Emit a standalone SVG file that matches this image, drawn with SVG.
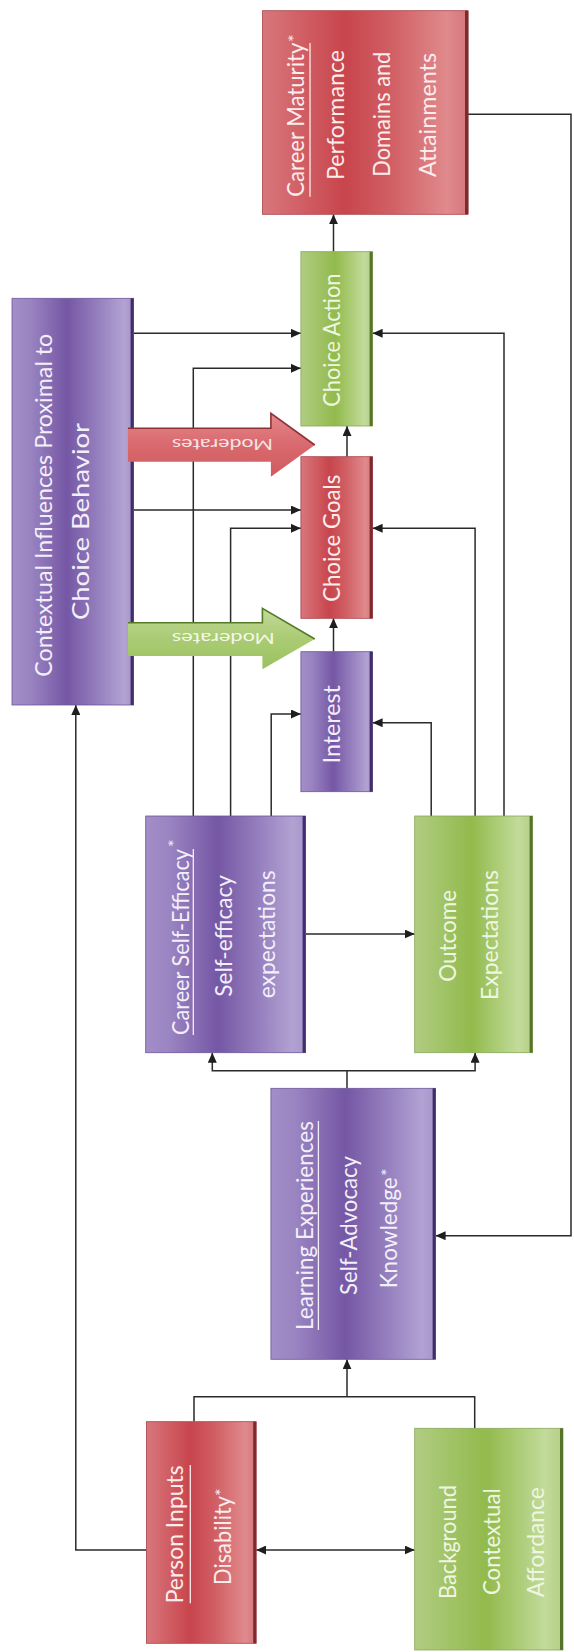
<svg xmlns="http://www.w3.org/2000/svg" width="574" height="1652" viewBox="0 0 574 1652">
<defs>
<linearGradient id="gP" x1="0" y1="0" x2="1" y2="0">
<stop offset="0" stop-color="#a28ec8"/><stop offset="0.15" stop-color="#9a84c1"/><stop offset="0.45" stop-color="#7557a5"/><stop offset="0.72" stop-color="#9781bf"/><stop offset="0.92" stop-color="#b2a2d3"/><stop offset="1" stop-color="#a594ca"/>
</linearGradient>
<linearGradient id="gR" x1="0" y1="0" x2="1" y2="0">
<stop offset="0" stop-color="#d8777c"/><stop offset="0.4" stop-color="#c8454c"/><stop offset="0.62" stop-color="#d05e63"/><stop offset="0.9" stop-color="#e08a8d"/><stop offset="1" stop-color="#d57579"/>
</linearGradient>
<linearGradient id="gG" x1="0" y1="0" x2="1" y2="0">
<stop offset="0" stop-color="#b1cc82"/><stop offset="0.48" stop-color="#92ba4c"/><stop offset="0.88" stop-color="#c2db9a"/><stop offset="1" stop-color="#b4cf86"/>
</linearGradient>
<linearGradient id="aR" x1="0" y1="0" x2="0" y2="1">
<stop offset="0" stop-color="#e3878b"/><stop offset="0.5" stop-color="#d9696e"/><stop offset="1" stop-color="#cf5b60"/>
</linearGradient>
<linearGradient id="aG" x1="0" y1="0" x2="0" y2="1">
<stop offset="0" stop-color="#c3da99"/><stop offset="0.5" stop-color="#aacb74"/><stop offset="1" stop-color="#9cc15f"/>
</linearGradient>
<marker id="ah" viewBox="0 0 10 9" refX="10" refY="4.5" markerWidth="10" markerHeight="9" markerUnits="userSpaceOnUse" orient="auto-start-reverse">
<path d="M0,0 L10,4.5 L0,9 Z" fill="#1e1e1e"/>
</marker>
</defs>
<style>
.c{fill:none;stroke:#2a2a2a;stroke-width:1.5}
.a{marker-end:url(#ah)}
.t{font-family:Lato,"Open Sans","Liberation Sans",sans-serif;font-size:23px}
.st{font-family:Lato,"Open Sans","Liberation Sans",sans-serif;font-size:18px}
.tp{fill:#f3eff9}
.tr{fill:#fcecec}
.tg{fill:#eef6e0}
.ul{stroke-width:1.3}
.sP{fill:#3f2e6a}.sR{fill:#7b2b30}.sG{fill:#56752a}
.bP{stroke:#6b569a;stroke-width:0.8}.bR{stroke:#a8454b;stroke-width:0.8}.bG{stroke:#86a85a;stroke-width:0.8}
.mt{font-family:Lato,"Open Sans","Liberation Sans",sans-serif;font-size:15px}
</style>
<rect width="574" height="1652" fill="#ffffff"/>

<g id="connectors">
<path class="c a" d="M333.5,251.7 V214.3"/>
<path class="c a" d="M347,456.7 V426"/>
<path class="c a" d="M333.5,651.7 V618.3"/>
<path class="c a" d="M133.6,333.3 H300.9"/>
<path class="c a" d="M133.6,510 H300.9"/>
<path class="c a" d="M193.3,816 V368.3 H300.9"/>
<path class="c a" d="M230.6,816 V528.3 H300.9"/>
<path class="c a" d="M271.2,816 V714 H300.9"/>
<path class="c a" d="M504,816 V333.3 H372.6"/>
<path class="c a" d="M475.1,816 V528.3 H372.6"/>
<path class="c a" d="M431.2,816 V722.7 H372.6"/>
<path class="c a" d="M305.6,934 H414.7"/>
<path class="c" d="M347,1088.3 V1070.7"/>
<path class="c a" d="M347,1070.7 H212.3 V1052.7"/>
<path class="c a" d="M347,1070.7 H475.1 V1052.7"/>
<path class="c" d="M194,1421.7 V1396.7 H474.7 V1428.3"/>
<path class="c a" d="M347,1396.7 V1359.3"/>
<path class="c a" d="M256.2,1550 H414.7" marker-start="url(#ah)"/>
<path class="c a" d="M146.4,1550 H75.8 V705"/>
<path class="c a" d="M467.8,114.3 H571 V1235.7 H435.6"/>
</g>

<g id="careerMaturity">
<rect x="262.5" y="10.7" width="205.3" height="203.6" fill="url(#gR)" class="bR"/>
<rect x="465" y="10.7" width="3.5" height="203.6" class="sR"/>
<text class="t tr" transform="translate(303.8,196.7) rotate(-90)" textLength="154" lengthAdjust="spacingAndGlyphs">Career Maturity</text>
<text class="st tr" transform="translate(301,42) rotate(-90)">*</text>
<line class="ul" x1="310" y1="196.7" x2="310" y2="43" stroke="#fcecec"/>
<text class="t tr" transform="translate(344,180) rotate(-90)" textLength="130" lengthAdjust="spacingAndGlyphs">Performance</text>
<text class="t tr" transform="translate(389.8,176.7) rotate(-90)" textLength="125" lengthAdjust="spacingAndGlyphs">Domains and</text>
<text class="t tr" transform="translate(435.6,177) rotate(-90)" textLength="124" lengthAdjust="spacingAndGlyphs">Attainments</text>
</g>

<g id="choiceAction">
<rect x="300.9" y="251.7" width="71.7" height="174.3" fill="url(#gG)" class="bG"/>
<rect x="369.6" y="251.7" width="3" height="174.3" class="sG"/>
<text class="t tg" transform="translate(340,406.7) rotate(-90)" textLength="133" lengthAdjust="spacingAndGlyphs">Choice Action</text>
</g>

<g id="choiceGoals">
<rect x="300.9" y="456.7" width="71.7" height="161.6" fill="url(#gR)" class="bR"/>
<rect x="369.6" y="456.7" width="3" height="161.6" class="sR"/>
<text class="t tr" transform="translate(340,601.7) rotate(-90)" textLength="127" lengthAdjust="spacingAndGlyphs">Choice Goals</text>
</g>

<g id="interest">
<rect x="300.9" y="651.7" width="71.7" height="140" fill="url(#gP)" class="bP"/>
<rect x="369.6" y="651.7" width="3" height="140" class="sP"/>
<text class="t tp" transform="translate(339.7,763.3) rotate(-90)" textLength="78" lengthAdjust="spacingAndGlyphs">Interest</text>
</g>

<g id="contextualInfluences">
<rect x="12" y="298.3" width="121.6" height="406.7" fill="url(#gP)" class="bP"/>
<rect x="130.6" y="298.3" width="3" height="406.7" class="sP"/>
<text class="t tp" transform="translate(51.7,676.7) rotate(-90)" textLength="343" lengthAdjust="spacingAndGlyphs">Contextual Influences Proximal to</text>
<text class="t tp" transform="translate(89.3,620) rotate(-90)" textLength="197" lengthAdjust="spacingAndGlyphs">Choice Behavior</text>
</g>

<g id="moderatesRed">
<path d="M128,428.3 L270.9,428.3 L270.9,413.3 L314.8,445 L270.9,476.7 L270.9,461.7 L128,461.7 Z" fill="url(#aR)"/>
<path d="M128,428.3 L270.9,428.3 L270.9,413.3 L314.8,445" fill="none" stroke="#8e3236" stroke-width="1.6"/>
<text class="mt" fill="#f6e4e4" text-anchor="middle" dominant-baseline="central" transform="translate(222.5,445) rotate(180)" textLength="101" lengthAdjust="spacingAndGlyphs">Moderates</text>
</g>

<g id="moderatesGreen">
<path d="M128,622.7 L262.4,622.7 L262.4,608.3 L314.8,639 L262.4,669.3 L262.4,656 L128,656 Z" fill="url(#aG)"/>
<path d="M128,622.7 L262.4,622.7 L262.4,608.3 L314.8,639" fill="none" stroke="#557a26" stroke-width="1.6"/>
<text class="mt" fill="#f3f8e8" text-anchor="middle" dominant-baseline="central" transform="translate(223.3,638.5) rotate(180)" textLength="103" lengthAdjust="spacingAndGlyphs">Moderates</text>
</g>

<g id="careerSelfEfficacy">
<rect x="145.7" y="816" width="159.9" height="236.7" fill="url(#gP)" class="bP"/>
<rect x="302.6" y="816" width="3" height="236.7" class="sP"/>
<text class="t tp" transform="translate(188.5,1035) rotate(-90)" textLength="186" lengthAdjust="spacingAndGlyphs">Career Self-Efficacy</text>
<text class="st tp" transform="translate(181,847) rotate(-90)">*</text>
<line class="ul" x1="193.3" y1="1035" x2="193.3" y2="849" stroke="#f3eff9"/>
<text class="t tp" transform="translate(232.4,996.7) rotate(-90)" textLength="121.7" lengthAdjust="spacingAndGlyphs">Self-efficacy</text>
<text class="t tp" transform="translate(274.5,998.3) rotate(-90)" textLength="128" lengthAdjust="spacingAndGlyphs">expectations</text>
</g>

<g id="outcomeExpectations">
<rect x="414.7" y="816" width="117.9" height="236.7" fill="url(#gG)" class="bG"/>
<rect x="529.6" y="816" width="3" height="236.7" class="sG"/>
<text class="t tg" transform="translate(455.7,981.7) rotate(-90)" textLength="91.7" lengthAdjust="spacingAndGlyphs">Outcome</text>
<text class="t tg" transform="translate(497.8,1000) rotate(-90)" textLength="130" lengthAdjust="spacingAndGlyphs">Expectations</text>
</g>

<g id="learningExperiences">
<rect x="270.9" y="1088.3" width="164.7" height="271" fill="url(#gP)" class="bP"/>
<rect x="432.6" y="1088.3" width="3" height="271" class="sP"/>
<text class="t tp" transform="translate(313,1330) rotate(-90)" textLength="209" lengthAdjust="spacingAndGlyphs">Learning Experiences</text>
<line class="ul" x1="318.4" y1="1330" x2="318.4" y2="1121" stroke="#f3eff9"/>
<text class="t tp" transform="translate(356.9,1295) rotate(-90)" textLength="139" lengthAdjust="spacingAndGlyphs">Self-Advocacy</text>
<text class="t tp" transform="translate(397.1,1288.3) rotate(-90)" textLength="111" lengthAdjust="spacingAndGlyphs">Knowledge</text>
<text class="st tp" transform="translate(394,1176) rotate(-90)">*</text>
</g>

<g id="personInputs">
<rect x="146.4" y="1421.7" width="109.8" height="221.6" fill="url(#gR)" class="bR"/>
<rect x="253.2" y="1421.7" width="3" height="221.6" class="sR"/>
<text class="t tr" transform="translate(183,1603.3) rotate(-90)" textLength="138" lengthAdjust="spacingAndGlyphs">Person Inputs</text>
<line class="ul" x1="190.3" y1="1603.3" x2="190.3" y2="1465" stroke="#fcecec"/>
<text class="t tr" transform="translate(230.6,1585) rotate(-90)" textLength="89" lengthAdjust="spacingAndGlyphs">Disability</text>
<text class="st tr" transform="translate(228,1496) rotate(-90)">*</text>
</g>

<g id="background">
<rect x="414.7" y="1428.3" width="148.3" height="221.7" fill="url(#gG)" class="bG"/>
<rect x="560" y="1428.3" width="3" height="221.7" class="sG"/>
<text class="t tg" transform="translate(455.7,1599) rotate(-90)" textLength="114" lengthAdjust="spacingAndGlyphs">Background</text>
<text class="t tg" transform="translate(499.6,1595) rotate(-90)" textLength="106.7" lengthAdjust="spacingAndGlyphs">Contextual</text>
<text class="t tg" transform="translate(543.6,1597.3) rotate(-90)" textLength="110" lengthAdjust="spacingAndGlyphs">Affordance</text>
</g>
</svg>
